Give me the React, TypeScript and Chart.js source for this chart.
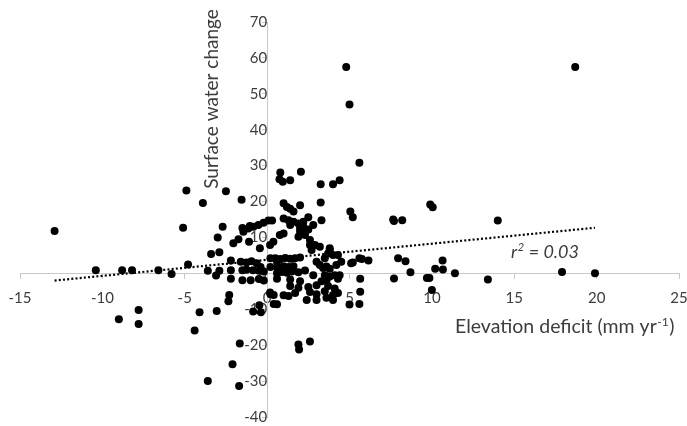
import React, { useEffect, useRef } from "react";
import { Chart, registerables } from "chart.js";

Chart.register(...registerables);

// Elevation deficit (mm/yr) and surface water change, paired per site
const points: [number, number][] = [
  [-12.9, 11.8], [-10.4, 0.9], [-8.8, 0.9], [-8.2, 0.9], [-6.6, 0.9], [-5.8, -0.2], [-4.8, 2.5],
  [-5.1, 12.7], [-4.9, 23.1], [-9.0, -12.8], [-7.8, -10.2], [-7.8, -14.1], [-4.4, -15.9], [-4.1, -10.8],
  [-3.9, 19.6], [-2.5, 22.9], [-2.7, 13.0], [-3.0, 10.0], [-3.4, 5.4], [-2.9, 5.9], [-3.6, 0.7],
  [-3.1, -0.6], [-2.9, 0.7], [-2.2, 3.6], [-2.2, 0.9], [-2.2, -1.5], [-2.3, -6.0], [-2.35, -7.8],
  [-3.06, -10.5], [-3.6, -30.0], [-2.1, -25.3], [-1.7, -31.4], [-1.66, -19.5], [-0.85, -10.6],
  [-0.38, -10.8], [-0.47, -8.9], [0.18, -5.3], [0.4, -8.5], [-1.55, 20.5],
  [0.8, 28.1], [0.75, 26.2], [0.95, 25.5], [1.4, 25.9], [2.05, 28.3], [3.25, 24.8], [4.0, 24.8],
  [4.4, 25.9], [5.6, 30.8], [4.8, 57.5], [5.0, 47.0], [18.7, 57.5], [3.25, 19.7], [5.05, 17.2],
  [5.2, 15.6], [1.0, 19.5], [1.2, 18.5], [1.4, 18.0], [1.6, 17.2], [2.0, 19.0], [1.0, 15.3],
  [1.3, 14.8], [1.6, 14.4], [1.9, 13.9], [2.2, 14.4], [2.5, 15.6], [2.2, 13.0], [2.8, 13.5], [3.3, 14.8],
  [-2.05, 8.4], [-1.74, 9.5], [-1.44, 11.6], [-1.14, 12.5], [-0.83, 13.0], [-0.53, 13.5], [-0.22, 14.1],
  [0.08, 14.7], [0.3, 14.7], [-1.5, 12.6], [-1.05, 13.2], [-1.1, 8.8],
  [-0.44, 7.0], [0.18, 7.9], [0.38, 8.8], [0.77, 10.7], [1.0, 11.1], [2.0, 12.5], [2.5, 12.2],
  [2.2, 11.1], [1.9, 10.2], [2.6, 9.3], [2.6, 7.9], [2.7, 6.5], [3.2, 7.4], [2.9, 7.9], [1.4, 13.5],
  [2.0, 11.6], [2.3, 10.7], [3.8, 7.0], [3.7, 5.5], [3.8, 6.5],
  [9.9, 19.2], [10.05, 18.4], [7.65, 15.0], [7.7, 14.6], [8.2, 14.8], [14.0, 14.7], [5.75, 4.0],
  [6.15, 3.6], [7.95, 4.2], [8.4, 3.4], [8.7, 0.3], [7.7, -1.4], [9.7, -1.3], [9.85, -1.3],
  [10.0, -4.6], [10.2, 1.3], [10.65, 3.6], [10.67, 1.1], [11.4, 0.0], [5.65, -1.5], [5.65, -5.1],
  [5.6, -8.5], [5.0, -8.7], [4.5, 3.2], [5.2, 3.0], [4.4, -0.5], [17.9, 0.4], [19.9, 0.0], [13.4, -1.7],
  [-1.6, 3.2], [-1.25, 3.0], [-0.95, 3.4], [-0.63, 2.8], [0.2, 4.2], [0.5, 4.2], [0.8, 4.0], [1.1, 4.3],
  [1.4, 4.1], [1.7, 4.2], [2.0, 4.4], [3.5, 4.2], [4.0, 5.1], [4.3, 5.1], [5.6, 4.2], [5.1, 2.8], [0.6, 3.2],
  [-0.4, 1.8], [0.2, 1.8], [0.6, 1.6], [1.0, 2.0], [1.3, 1.8], [1.6, 2.0], [3.0, 3.2], [3.2, 2.3],
  [3.4, 1.5], [3.6, 1.9], [3.8, 1.3], [4.2, 2.3],
  [-1.5, 0.9], [-1.25, 1.0], [-0.85, 0.9], [-0.5, 0.7], [-0.2, 0.5], [0.6, 0.0], [0.9, 0.4], [1.2, 0.2],
  [1.5, 0.5], [1.9, 0.3], [2.8, -0.5], [3.5, -0.5], [3.8, -0.9], [4.1, -0.5], [2.3, 0.8],
  [-1.5, -1.9], [-1.0, -1.9], [-0.5, -1.6], [-0.2, -2.0], [0.6, -1.5], [1.4, -1.7], [2.0, -2.2],
  [3.3, -2.2], [3.6, -2.0], [4.3, -1.5],
  [1.4, -3.5], [1.9, -4.0], [3.0, -3.3], [3.7, -3.5], [4.1, -4.2], [2.5, -3.8],
  [0.2, -5.8], [0.4, -6.0], [1.0, -6.1], [1.3, -6.3], [1.7, -5.5], [2.6, -5.2], [3.0, -5.8], [3.5, -5.0],
  [4.0, -6.0], [4.3, -5.5],
  [2.4, -7.4], [3.0, -7.4], [4.0, -7.4], [3.6, -6.8], [0.6, -8.6],
  [1.9, -19.8], [1.94, -21.2], [2.6, -19.0],
];

const elevationDeficit = points.map((p) => p[0]);
const surfaceWaterChange = points.map((p) => p[1]);

// Linear trend line end points
const trendX = [-12.9, 19.9];
const trendY = [-2.0, 12.7];

const xRange = [-15, 25];
const yRange = [-40, 70];
const xStep = 5;
const yStep = 10;

const yTitle = "Surface water change";
const xTitleMain = "Elevation deficit (mm yr";
const xTitleSup = "-1";
const xTitleEnd = ")";
const r2Label = "r";
const r2Sup = "2";
const r2Value = " = 0.03";

const TEXT = "#3c3c3c";
const AXIS = "#c8c8c8";
const FONT = "Lato";

const noLayoutSpace = (horizontal: boolean) => (s: any) => {
  if (horizontal) s.height = 0;
  else s.width = 0;
  s.paddingLeft = 0;
  s.paddingRight = 0;
  s.paddingTop = 0;
  s.paddingBottom = 0;
};

const textPlugin = {
  id: "customText",
  beforeDatasetsDraw(chart: any) {
    const ctx = chart.ctx as CanvasRenderingContext2D;
    const xs = chart.scales.x;
    const ys = chart.scales.y;
    const area = chart.chartArea;
    ctx.save();
    ctx.fillStyle = TEXT;

    // Y title (rotated)
    ctx.save();
    ctx.font = `19px ${FONT}`;
    ctx.translate(xs.getPixelForValue(0) - 55, area.top + 77);
    ctx.rotate(-Math.PI / 2);
    ctx.textAlign = "center";
    ctx.textBaseline = "middle";
    ctx.fillText(yTitle, 0, 0);
    ctx.restore();

    // X title with superscript
    ctx.textBaseline = "alphabetic";
    ctx.textAlign = "left";
    let x = 455;
    const base = ys.getPixelForValue(0) + 60;
    ctx.font = `19.5px ${FONT}`;
    ctx.fillText(xTitleMain, x, base);
    x += ctx.measureText(xTitleMain).width;
    ctx.font = `12px ${FONT}`;
    ctx.fillText(xTitleSup, x + 0.5, base - 7.5);
    x += ctx.measureText(xTitleSup).width + 1;
    ctx.font = `19.5px ${FONT}`;
    ctx.fillText(xTitleEnd, x, base);

    // r^2 annotation
    let rx = 511;
    const rb = ys.getPixelForValue(0) - 15;
    ctx.font = `italic 18px ${FONT}`;
    ctx.fillText(r2Label, rx, rb);
    rx += ctx.measureText(r2Label).width;
    ctx.font = `italic 11px ${FONT}`;
    ctx.fillText(r2Sup, rx + 0.5, rb - 7);
    rx += ctx.measureText(r2Sup).width + 1;
    ctx.font = `italic 18px ${FONT}`;
    ctx.fillText(r2Value, rx, rb);

    ctx.restore();
  },
};

export default function App() {
  const ref = useRef<HTMLCanvasElement | null>(null);

  useEffect(() => {
    if (!ref.current) return;
    document.body.style.margin = "0";
    const chart = new Chart(ref.current, {
      type: "scatter",
      data: {
        datasets: [
          {
            type: "line",
            label: "trend",
            data: trendX.map((x, i) => ({ x, y: trendY[i] })),
            borderColor: "#000",
            borderWidth: 2.2,
            borderDash: [2, 2.2],
            pointRadius: 0,
            fill: false,
            order: 1,
          } as any,
          {
            label: "sites",
            data: elevationDeficit.map((x, i) => ({ x, y: surfaceWaterChange[i] })),
            backgroundColor: "#000",
            borderColor: "#000",
            borderWidth: 0,
            pointRadius: 4,
            order: 0,
          },
        ],
      },
      options: {
        responsive: false,
        animation: false,
        devicePixelRatio: 1,
        layout: { padding: { left: 20, right: 8, top: 22, bottom: 9 } },
        plugins: { legend: { display: false }, tooltip: { enabled: false } },
        scales: {
          x: {
            type: "linear",
            min: xRange[0],
            max: xRange[1],
            position: { y: 0 } as any,
            afterFit: noLayoutSpace(true),
            ticks: {
              stepSize: xStep,
              color: TEXT,
              font: { family: FONT, size: 15 },
              padding: 11,
              maxRotation: 0,
              autoSkip: false,
            },
            grid: { drawOnChartArea: false, tickLength: 5, color: AXIS },
            border: { color: AXIS, width: 1 },
          },
          y: {
            type: "linear",
            min: yRange[0],
            max: yRange[1],
            position: { x: 0 } as any,
            afterFit: noLayoutSpace(false),
            ticks: {
              stepSize: yStep,
              color: TEXT,
              font: { family: FONT, size: 15 },
              padding: 11,
              autoSkip: false,
            },
            grid: { drawOnChartArea: false, tickLength: 5, color: AXIS },
            border: { color: AXIS, width: 1 },
          },
        },
      },
      plugins: [textPlugin],
    });
    (document as any).fonts?.load?.(`15px ${FONT}`).then(() => chart.update());
    return () => chart.destroy();
  }, []);

  return (
    <div style={{ position: "absolute", left: 0, top: 0, width: 687, height: 426, background: "#fff" }}>
      <canvas ref={ref} width={687} height={426} />
    </div>
  );
}
